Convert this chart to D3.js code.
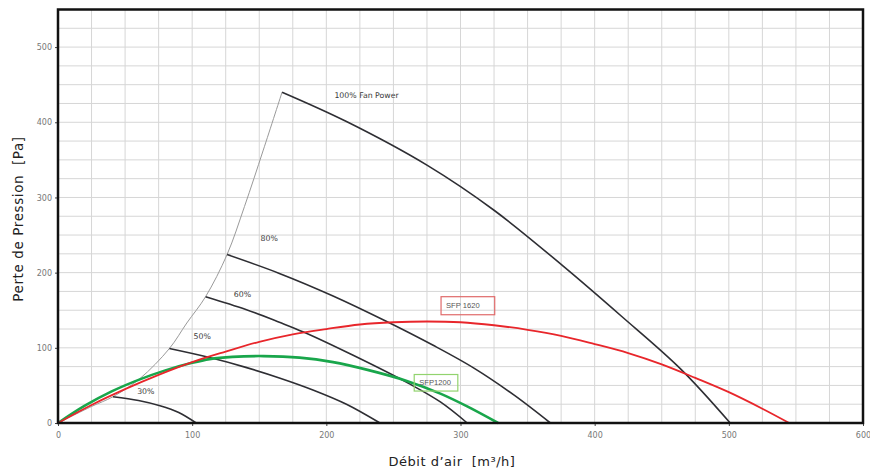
<!DOCTYPE html>
<html>
<head>
<meta charset="utf-8">
<script src="https://cdn.jsdelivr.net/npm/d3@7"></script>
<style>
  html, body { margin: 0; padding: 0; background: #fff; }
  svg { display: block; }
  text { white-space: pre; }
</style>
</head>
<body>
<div id="chart"></div>
<script>
// ---------- data ----------
const xTicks = [0, 100, 200, 300, 400, 500, 600];
const yTicks = [0, 100, 200, 300, 400, 500];

// fan curves: [airflow m3/h, pressure Pa]
const fan100 = [[167, 440], [215, 401], [275, 343], [325, 283], [377, 208], [420, 142], [464, 72], [501, 0]];
const fan80  = [[126, 224], [165, 199], [205, 169], [245, 135], [280, 103], [310, 73], [340, 37], [367, 0]];
const fan60  = [[110, 168], [140, 151], [165, 134], [183, 121], [220, 90], [262, 52], [285, 28], [305, 0]];
const fan50  = [[83, 99], [113, 87], [140, 74], [165, 60], [190, 44], [215, 25], [240, 0]];
const fan30  = [[41, 35], [60, 30], [76, 23], [90, 14], [103, 0]];

// envelope (start points of the fan curves)
const envelope = [[0, 0], [25, 22], [41, 35], [61, 59], [83, 99], [96, 133], [110, 168], [126, 224], [139, 288], [153, 363], [167, 440]];

// system curves
const sfp1620 = [[0, 0], [25, 24], [50, 45], [75, 64], [100, 81], [125, 95], [150, 108], [175, 118], [200, 125], [225, 131], [250, 134], [275, 135], [300, 134], [325, 130], [350, 124], [375, 116], [400, 105], [425, 93], [450, 78], [475, 60], [500, 41], [525, 19], [545, 0]];
const sfp1200 = [[0, 0], [20, 23], [40, 42], [61, 58], [80, 70], [100, 80], [113, 85], [130, 88], [153, 89], [180, 87], [205, 81], [230, 71], [260, 56], [285, 39], [305, 22], [328, 0]];

const fanLabels = ["100% Fan Power", "80%", "60%", "50%", "30%"];
const sysLabels = ["SFP 1620", "SFP1200"];
const xTitle = "Débit d’air  [m³/h]";
const yTitle = "Perte de Pression  [Pa]";

// ---------- layout ----------
const W = 870, H = 471;
const m = { left: 58, right: 7, top: 9.5, bottom: 48 };

const svg = d3.select("#chart").append("svg")
  .attr("width", W).attr("height", H);

const x = d3.scaleLinear().domain([0, 600]).range([m.left, W - m.right]);
const y = d3.scaleLinear().domain([0, 550]).range([H - m.bottom, m.top]);

// grid (every 25 units)
const gx = d3.range(25, 600, 25);
const gy = d3.range(25, 550, 25);
svg.append("g").selectAll("line").data(gx).join("line")
  .attr("x1", d => x(d)).attr("x2", d => x(d))
  .attr("y1", y(0)).attr("y2", y(550))
  .attr("stroke", "#d6d6d6").attr("stroke-width", 1);
svg.append("g").selectAll("line").data(gy).join("line")
  .attr("y1", d => y(d)).attr("y2", d => y(d))
  .attr("x1", x(0)).attr("x2", x(600))
  .attr("stroke", "#d6d6d6").attr("stroke-width", 1);

// axes
const xAxis = svg.append("g")
  .attr("transform", `translate(0,${y(0)})`)
  .call(d3.axisBottom(x).tickValues(xTicks).tickSize(3).tickPadding(6));
const yAxis = svg.append("g")
  .attr("transform", `translate(${x(0)},0)`)
  .call(d3.axisLeft(y).tickValues(yTicks).tickSize(3).tickPadding(3));
[xAxis, yAxis].forEach(a => {
  a.select(".domain").remove();
  a.selectAll(".tick line").attr("stroke", "#444");
  a.selectAll(".tick text").attr("fill", "#777")
    .style("font-family", "DejaVu Sans, sans-serif").style("font-size", "8px");
});

// lines
const line = d3.line().x(d => x(d[0])).y(d => y(d[1])).curve(d3.curveCatmullRom.alpha(0.5));

svg.append("path").datum(envelope).attr("d", line)
  .attr("fill", "none").attr("stroke", "#9a9a9a").attr("stroke-width", 1);

[fan100, fan80, fan60, fan50, fan30].forEach(s => {
  svg.append("path").datum(s).attr("d", line)
    .attr("fill", "none").attr("stroke", "#2e2e33").attr("stroke-width", 1.6);
});

svg.append("path").datum(sfp1200).attr("d", line)
  .attr("fill", "none").attr("stroke", "#19a64b").attr("stroke-width", 2.6);
svg.append("path").datum(sfp1620).attr("d", line)
  .attr("fill", "none").attr("stroke", "#e8262b").attr("stroke-width", 1.8);

// frame
svg.append("rect")
  .attr("x", x(0)).attr("y", y(550))
  .attr("width", x(600) - x(0)).attr("height", y(0) - y(550))
  .attr("fill", "none").attr("stroke", "#111").attr("stroke-width", 2.5);

// fan labels (placed in data coordinates)
const lblFont = "DejaVu Sans, sans-serif";
const fanPos = [[206, 432], [151, 242], [131, 167], [101, 112], [59, 38]];
fanLabels.forEach((t, i) => {
  svg.append("text").attr("x", x(fanPos[i][0])).attr("y", y(fanPos[i][1]))
    .attr("fill", "#3a3a3a").style("font-family", lblFont).style("font-size", i === 0 ? "7.8px" : "7.8px")
    .text(t);
});

// system labels with boxes
const boxes = [
  { x0: 285.5, x1: 325.5, y0: 168, y1: 144, stroke: "#e06a6a" },
  { x0: 265.5, x1: 298, y0: 64.5, y1: 42.5, stroke: "#92d36e" }
];
sysLabels.forEach((t, i) => {
  const b = boxes[i];
  svg.append("rect")
    .attr("x", x(b.x0)).attr("y", y(b.y0))
    .attr("width", x(b.x1) - x(b.x0)).attr("height", y(b.y1) - y(b.y0))
    .attr("fill", "none").attr("stroke", b.stroke).attr("stroke-width", 1.2);
  svg.append("text")
    .attr("x", x(b.x0) + 5).attr("y", (y(b.y0) + y(b.y1)) / 2 + 2.7)
    .attr("fill", "#555").style("font-family", "Liberation Sans, sans-serif").style("font-size", "7.6px")
    .text(t);
});

// axis titles
svg.append("text")
  .attr("x", 452).attr("y", 466)
  .attr("text-anchor", "middle").attr("fill", "#222")
  .style("font-family", "DejaVu Sans, sans-serif").style("font-size", "13px")
  .style("letter-spacing", "0.5px")
  .text(xTitle);
svg.append("text")
  .attr("transform", `translate(23,${219}) rotate(-90)`)
  .attr("text-anchor", "middle").attr("fill", "#222")
  .style("font-family", "DejaVu Sans, sans-serif").style("font-size", "13.5px")
  .style("letter-spacing", "0.6px")
  .text(yTitle);
</script>
</body>
</html>
